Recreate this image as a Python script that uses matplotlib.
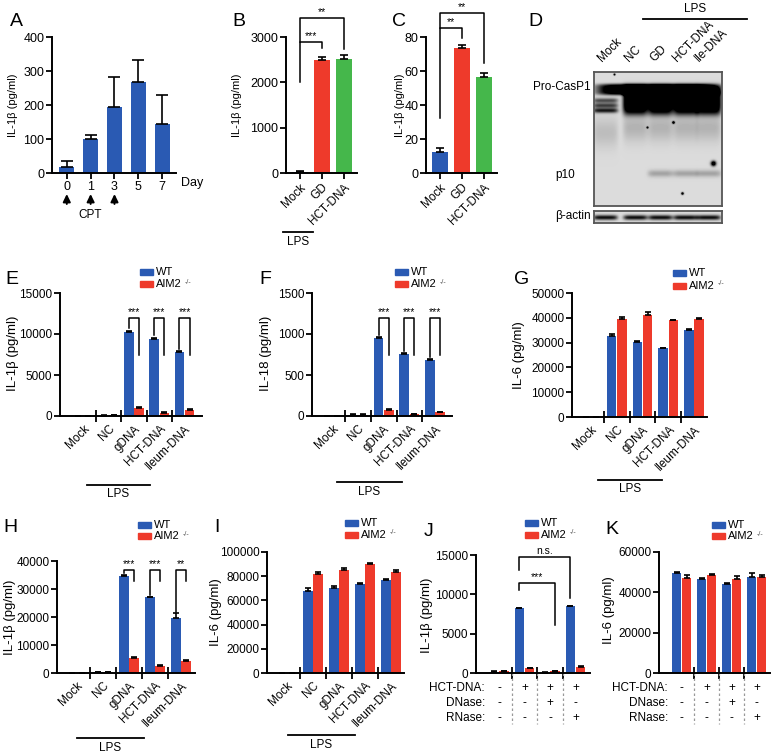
import numpy as np
import matplotlib
matplotlib.use("Agg")
import matplotlib.pyplot as plt
from matplotlib.patches import Rectangle
from matplotlib import transforms

plt.rcParams['font.family'] = ['Liberation Sans', 'DejaVu Sans']

BLUE = '#2A5AB3'
RED = '#EE3A2B'
GREEN = '#45B74B'

# ---- data ----
A_days = ['0', '1', '3', '5', '7']
A_vals = [17, 100, 195, 268, 145]
A_err = [18, 12, 87, 65, 83]

BC_labels = ['Mock', 'GD', 'HCT-DNA']
B_vals = [30, 2490, 2510]
B_err = [15, 70, 90]
C_vals = [12.5, 73.5, 56.5]
C_err = [2, 1.5, 2.5]

D_lanes = ['Mock', 'NC', 'GD', 'HCT-DNA', 'Ile-DNA']

groups = ['Mock', 'NC', 'gDNA', 'HCT-DNA', 'Ileum-DNA']
E_wt = [0, 60, 10300, 9450, 7800]
E_wt_err = [0, 20, 120, 100, 90]
E_ko = [0, 120, 1000, 400, 750]
E_ko_err = [0, 20, 120, 80, 80]

F_wt = [0, 15, 950, 760, 680]
F_wt_err = [0, 5, 12, 6, 12]
F_ko = [0, 15, 75, 20, 45]
F_ko_err = [0, 5, 10, 5, 5]

G_wt = [0, 32700, 30200, 27800, 35000]
G_wt_err = [0, 700, 400, 0, 300]
G_ko = [0, 39500, 41000, 39000, 39500]
G_ko_err = [0, 800, 1500, 300, 300]

H_wt = [0, 200, 34800, 27000, 19800]
H_wt_err = [0, 0, 300, 300, 1600]
H_ko = [0, 300, 5300, 2600, 4200]
H_ko_err = [0, 0, 300, 200, 300]

I_wt = [0, 68000, 70000, 73500, 77000]
I_wt_err = [0, 2000, 1500, 500, 600]
I_ko = [0, 82000, 85500, 90000, 83500]
I_ko_err = [0, 1500, 1500, 500, 2000]

J_wt = [150, 8200, 50, 8500]
J_wt_err = [50, 100, 20, 80]
J_ko = [250, 600, 250, 750]
J_ko_err = [40, 80, 50, 80]

K_wt = [49500, 46500, 44000, 47500]
K_wt_err = [500, 400, 400, 2000]
K_ko = [47000, 48800, 46500, 47500]
K_ko_err = [1500, 500, 1500, 1000]

treat_rows = ['HCT-DNA:', 'DNase:', 'RNase:']
hct = ['-', '+', '+', '+']
dnase = ['-', '-', '+', '-']
rnase = ['-', '-', '-', '+']

W, H = 777, 756
fig = plt.figure(figsize=(W / 100, H / 100), dpi=100)


def fx(x):
    return x / W


def fy(y):
    return 1 - y / H


def make_ax(l, t, r, b):
    return fig.add_axes([fx(l), fy(b), fx(r) - fx(l), fy(t) - fy(b)])


def style(ax, ymax, ticks, lsize=8.5):
    ax.spines[['top', 'right']].set_visible(False)
    ax.spines['left'].set_linewidth(1.4)
    ax.spines['bottom'].set_linewidth(1.4)
    ax.set_ylim(0, ymax)
    ax.set_yticks(ticks)
    ax.tick_params(axis='y', length=4, width=1.3, labelsize=lsize, pad=1.5)
    ax.patch.set_visible(False)


def ftext(x, y, s, **kw):
    kw.setdefault('fontsize', 8.5)
    return fig.text(fx(x), fy(y), s, **kw)


def letter(x, y, s):
    ftext(x, y, s, fontsize=14, ha='left', va='center')


def ylab(x, y, s, size=9.5):
    ftext(x, y, s, fontsize=size, rotation=90, ha='center', va='center')


def lps(x1, x2, y, ty):
    fig.add_artist(plt.Line2D([fx(x1), fx(x2)], [fy(y), fy(y)], color='k', lw=1.3))
    ftext((x1 + x2) / 2, ty, 'LPS', ha='center', va='center', fontsize=8.5)


def legend(x, y1, y2):
    for yy, c in [(y1, BLUE), (y2, RED)]:
        fig.add_artist(Rectangle((fx(x), fy(yy + 3)), 13 / W, 6 / H, color=c,
                                 transform=fig.transFigure))
    ftext(x + 16, y1, 'WT', va='center', fontsize=8)
    ftext(x + 16, y2, 'AIM2', va='center', fontsize=8)
    ftext(x + 45, y2 - 2, '-/-', va='center', fontsize=5, color='#555555')


def bracket(ax, x1, x2, y, y1, y2, s, size=7.5):
    ax.plot([x1, x1, x2, x2], [y1, y, y, y2], color='k', lw=1.1, clip_on=False)
    ax.annotate(s, xy=((x1 + x2) / 2, y), xytext=(0, 0.5), textcoords='offset points',
                ha='center', va='bottom', fontsize=size, annotation_clip=False)


def ebar(ax, x, v, e, cap=2):
    ax.errorbar(x, v, yerr=[np.zeros(len(e)), e], fmt='none', ecolor='k',
                elinewidth=1.2, capsize=cap, capthick=1.2, zorder=3)


def grouped(ax, wt, wte, ko, koe, xlim, labels=True):
    x = np.arange(len(wt))
    ax.bar(x - 0.2, wt, 0.37, color=BLUE, zorder=2)
    ax.bar(x + 0.2, ko, 0.37, color=RED, zorder=2)
    ebar(ax, x - 0.2, wt, wte)
    ebar(ax, x + 0.2, ko, koe)
    ax.set_xlim(*xlim)
    div = x[:-1] + 0.5
    ax.set_xticks(div)
    ax.set_xticklabels([])
    ax.tick_params(axis='x', which='major', direction='inout', length=9, width=1.3)
    if labels:
        ax.set_xticks(x, minor=True)
        ax.set_xticklabels(groups, minor=True, rotation=45, ha='right',
                           rotation_mode='anchor', fontsize=8.5)
        ax.tick_params(axis='x', which='minor', length=0, pad=5)
    return x


# ---------- A ----------
axA = make_ax(52, 37, 176, 173)
style(axA, 400, [0, 100, 200, 300, 400], 9)
xa = np.arange(len(A_vals))
axA.bar(xa, A_vals, 0.62, color=BLUE, zorder=2)
ebar(axA, xa, A_vals, A_err, cap=4)
axA.set_xlim(-0.62, 4.58)
axA.set_xticks(xa)
axA.set_xticklabels(A_days, fontsize=9)
axA.tick_params(axis='x', length=4, width=1.3, pad=2)
ftext(181, 183, 'Day', va='center', fontsize=9)
bt = transforms.blended_transform_factory(axA.transData, fig.transFigure)
for i in range(3):
    axA.annotate('', xy=(i, fy(194)), xytext=(i, fy(204)), xycoords=bt, textcoords=bt,
                 arrowprops=dict(arrowstyle='-|>,head_length=0.45,head_width=0.22',
                                 color='k', lw=1.4, mutation_scale=10,
                                 shrinkA=0, shrinkB=0))
ftext(90, 215, 'CPT', ha='center', va='center', fontsize=8.5)
letter(10, 21, 'A')
ylab(13, 105, 'IL-1β (pg/ml)', 8)

# ---------- B ----------
axB = make_ax(286, 37, 357, 173)
style(axB, 3000, [0, 1000, 2000, 3000], 9)
xb = np.arange(3)
axB.bar(xb, B_vals, 0.72, color=[BLUE, RED, GREEN], zorder=2)
ebar(axB, xb, B_vals, B_err, cap=3)
axB.set_xlim(-0.64, 2.6)
axB.set_xticks(xb)
axB.set_xticklabels(BC_labels, rotation=45, ha='right', rotation_mode='anchor', fontsize=8.5)
axB.tick_params(axis='x', length=4, width=1.3, pad=2)
bracket(axB, 0, 1, 2890, 2007, 2757, '***')
bracket(axB, 0, 2, 3419, 2890, 2735, '**')
lps(283, 313, 232, 242)
letter(232, 22, 'B')
ylab(237, 105, 'IL-1β (pg/ml)', 8)

# ---------- C ----------
axC = make_ax(426, 37, 497, 173)
style(axC, 80, [0, 20, 40, 60, 80], 9)
axC.bar(xb, C_vals, 0.72, color=[BLUE, RED, GREEN], zorder=2)
ebar(axC, xb, C_vals, C_err, cap=3)
axC.set_xlim(-0.64, 2.6)
axC.set_xticks(xb)
axC.set_xticklabels(BC_labels, rotation=45, ha='right', rotation_mode='anchor', fontsize=8.5)
axC.tick_params(axis='x', length=4, width=1.3, pad=2)
bracket(axC, 0, 1, 85.3, 32.4, 79.4, '**')
bracket(axC, 0, 2, 94.1, 85.3, 64.7, '**')
letter(392, 21, 'C')
ylab(400, 105, 'IL-1β (pg/ml)', 8)

# ---------- D (blot) ----------
letter(528, 21, 'D')
bh, bw = 134, 128
yy, xx = np.mgrid[0:bh, 0:bw].astype(float)
lane_c = [11, 41, 66, 91, 114]


def lane(c):
    return np.exp(-((xx - c) / 12.5) ** 6)


dark = np.zeros((bh, bw))
dark += 1.3 * np.exp(-((yy - 17) / 5.5) ** 4) * np.exp(-((xx - 63) / 60) ** 8)
for i, c in enumerate(lane_c):
    L = lane(c)
    if i == 0:
        for yc, a in [(28, 0.55), (33, 0.6), (38, 0.75)]:
            dark += a * L * np.exp(-((yy - yc) / 2.5) ** 2)
        dark += 0.12 * L * np.exp(-((yy - 60) / 15) ** 2)
    else:
        dark += 1.3 * L * np.exp(-((yy - 28) / 14) ** 4)
        dark += 0.16 * L * np.exp(-((yy - 55) / 14) ** 2)
    if i >= 2:
        dark += 0.22 * L * np.exp(-((yy - 101) / 3.5) ** 2)
for sx, sy, r in [(119, 91, 2.6), (79, 50, 1.3), (88, 121, 1.3), (53, 55, 1.0), (20, 2, 1.0)]:
    dark += 1.2 * np.exp(-((xx - sx) ** 2 + (yy - sy) ** 2) / r ** 2)
blot = np.clip(0.86 - dark, 0, 1)

axD = make_ax(594, 72, 722, 206)
axD.imshow(blot, cmap='gray', vmin=0, vmax=1, aspect='auto', interpolation='bilinear')
axD.set_xticks([])
axD.set_yticks([])
for s in axD.spines.values():
    s.set_color('#555555')
    s.set_linewidth(1.3)

ah, aw = 12, 128
ay, axx = np.mgrid[0:ah, 0:aw].astype(float)
adark = np.zeros((ah, aw))
for c in lane_c:
    adark += 0.8 * np.exp(-((axx - c) / 12) ** 6) * np.exp(-((ay - 6) / 2.5) ** 2)
actin = np.clip(0.86 - adark, 0, 1)
axD2 = make_ax(594, 211, 722, 223)
axD2.imshow(actin, cmap='gray', vmin=0, vmax=1, aspect='auto', interpolation='bilinear')
axD2.set_xticks([])
axD2.set_yticks([])
for s in axD2.spines.values():
    s.set_color('#555555')
    s.set_linewidth(1.3)

for lx, name in zip([604, 631, 656, 679, 701], D_lanes):
    ftext(lx, 64, name, rotation=45, ha='left', va='bottom', rotation_mode='anchor', fontsize=8.5)
fig.add_artist(plt.Line2D([fx(643), fx(747)], [fy(19), fy(19)], color='k', lw=1.3))
ftext(695, 9, 'LPS', ha='center', va='center', fontsize=8.5)
ftext(591, 87, 'Pro-CasP1', ha='right', va='center', fontsize=8.5)
ftext(565, 175, 'p10', ha='center', va='center', fontsize=8.5)
ftext(591, 216, 'β-actin', ha='right', va='center', fontsize=8.5)

# ---------- E ----------
axE = make_ax(60, 293, 202, 416)
style(axE, 15000, [0, 5000, 10000, 15000])
xe = grouped(axE, E_wt, E_wt_err, E_ko, E_ko_err, (-0.92, 4.69))
for i, s in zip([2, 3, 4], ['***', '***', '***']):
    bracket(axE, i - 0.2, i + 0.2, 12000, E_wt[i] + E_wt_err[i] + 300, 7440, s)
legend(140, 272, 284)
lps(87, 150, 485, 494)
letter(5, 279, 'E')
ylab(13, 353, 'IL-1β (pg/ml)')

# ---------- F ----------
axF = make_ax(312, 293, 452, 416)
style(axF, 1500, [0, 500, 1000, 1500])
grouped(axF, F_wt, F_wt_err, F_ko, F_ko_err, (-0.79, 4.66))
for i in [2, 3, 4]:
    bracket(axF, i - 0.2, i + 0.2, 1200, F_wt[i] + F_wt_err[i] + 30, 744, '***')
legend(395, 272, 284)
lps(337, 402, 482, 492)
letter(259, 279, 'F')
ylab(266, 353, 'IL-18 (pg/ml)')

# ---------- G ----------
axG = make_ax(572, 293, 707, 417)
style(axG, 50000, [0, 10000, 20000, 30000, 40000, 50000])
grouped(axG, G_wt, G_wt_err, G_ko, G_ko_err, (-0.74, 4.51))
legend(673, 273, 286)
lps(598, 662, 480, 489)
letter(514, 280, 'G')
ylab(519, 355, 'IL-6 (pg/ml)')

# ---------- H ----------
axH = make_ax(57, 561, 195, 673)
style(axH, 40000, [0, 10000, 20000, 30000, 40000])
grouped(axH, H_wt, H_wt_err, H_ko, H_ko_err, (-0.77, 4.54))
for i, s in zip([2, 3, 4], ['***', '***', '**']):
    bracket(axH, i - 0.2, i + 0.2, 36800, H_wt[i] + H_wt_err[i] + 500, 32800, s)
legend(138, 525, 536)
lps(77, 144, 738, 748)
letter(3, 528, 'H')
ylab(10, 617, 'IL-1β (pg/ml)')

# ---------- I ----------
axI = make_ax(267, 552, 404, 673)
style(axI, 100000, [0, 20000, 40000, 60000, 80000, 100000])
grouped(axI, I_wt, I_wt_err, I_ko, I_ko_err, (-0.77, 4.5))
legend(345, 523, 535)
lps(288, 355, 735, 745)
letter(214, 528, 'I')
ylab(216, 612, 'IL-6 (pg/ml)')


# ---------- J / K ----------
def treat_table(ax, x, label_x):
    bt = transforms.blended_transform_factory(ax.transData, fig.transFigure)
    for d in x[:-1] + 0.5:
        ax.plot([d, d], [fy(673), fy(724)], transform=bt, color='#999999', lw=0.9,
                ls=(0, (2, 2)), clip_on=False)
    for ry, name, signs in zip([688, 703, 718], treat_rows, [hct, dnase, rnase]):
        ftext(label_x, ry, name, ha='right', va='center', fontsize=8.5)
        for xi, s in zip(x, signs):
            ax.text(xi, fy(ry), s, transform=bt, ha='center', va='center', fontsize=8.5)


axJ = make_ax(476, 555, 590, 673)
style(axJ, 15000, [0, 5000, 10000, 15000])
xj = grouped(axJ, J_wt, J_wt_err, J_ko, J_ko_err, (-0.9, 3.57), labels=False)
treat_table(axJ, xj, 485)
bracket(axJ, 1 - 0.2, 2 + 0.2, 11440, 10550, 6100, '***')
bracket(axJ, 1 - 0.2, 3 - 0.2, 14750, 13090, 9530, 'n.s.')
legend(525, 523, 535)
letter(424, 532, 'J')
ylab(427, 615, 'IL-1β (pg/ml)')

axK = make_ax(659, 552, 770, 673)
style(axK, 60000, [0, 20000, 40000, 60000])
xk = grouped(axK, K_wt, K_wt_err, K_ko, K_ko_err, (-0.9, 3.54), labels=False)
treat_table(axK, xk, 668)
legend(712, 525, 536)
letter(605, 530, 'K')
ylab(609, 610, 'IL-6 (pg/ml)')

fig.savefig('out.png', dpi=100)
